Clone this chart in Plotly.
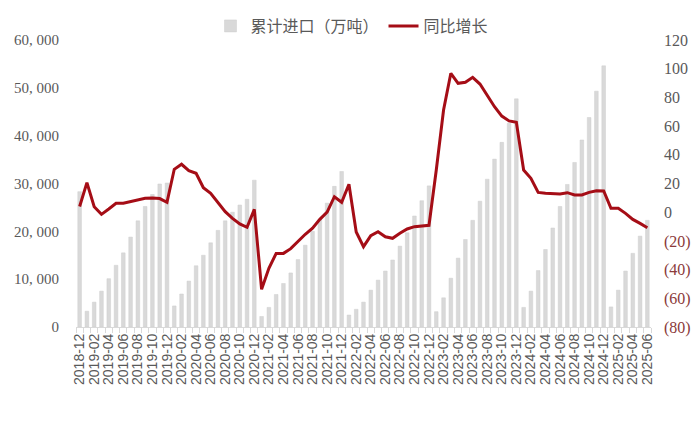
import plotly.graph_objects as go

months = ["2018-12",
          "2019-01","2019-02","2019-03","2019-04","2019-05","2019-06","2019-07","2019-08","2019-09","2019-10","2019-11","2019-12",
          "2020-01","2020-02","2020-03","2020-04","2020-05","2020-06","2020-07","2020-08","2020-09","2020-10","2020-11","2020-12",
          "2021-01","2021-02","2021-03","2021-04","2021-05","2021-06","2021-07","2021-08","2021-09","2021-10","2021-11","2021-12",
          "2022-01","2022-02","2022-03","2022-04","2022-05","2022-06","2022-07","2022-08","2022-09","2022-10","2022-11","2022-12",
          "2023-01","2023-02","2023-03","2023-04","2023-05","2023-06","2023-07","2023-08","2023-09","2023-10","2023-11","2023-12",
          "2024-01","2024-02","2024-03","2024-04","2024-05","2024-06","2024-07","2024-08","2024-09","2024-10","2024-11","2024-12",
          "2025-01","2025-02","2025-03","2025-04","2025-05","2025-06"]

imports = [28300,
           3300, 5200, 7500, 10100, 12900, 15500, 18800, 22200, 25200, 27700, 29900, 30100,
           4400, 6900, 9600, 12800, 15000, 17600, 20200, 22200, 24000, 25500, 26700, 30700,
           2200, 4100, 6800, 9100, 11300, 14100, 17100, 20000, 22500, 25900, 29400, 32500,
           2500, 3700, 5200, 7700, 9800, 11700, 14000, 16900, 19700, 23200, 26400, 29500,
           3200, 6100, 10200, 14400, 18300, 22300, 26300, 30900, 35100, 38600, 42600, 47700,
           4100, 7500, 11800, 16200, 20700, 25200, 29800, 34400, 39100, 43800, 49300, 54600,
           4200, 7700, 11700, 15400, 19000, 22300]

yoy = [4.0,
       20.6, 3.8, -1.5, 2.2, 6.2, 6.2, 7.3, 8.5, 9.7, 9.9, 9.5, 6.9,
       29.9, 33.4, 28.9, 27.1, 17.1, 13.2, 6.6, 0.4, -4.3, -8.2, -10.5, 2.0,
       -53.7, -39.1, -28.7, -28.7, -25.4, -20.1, -15.4, -11.2, -5.0, 0.1, 10.8, 6.9,
       19.5, -13.8, -24.0, -16.4, -13.6, -17.1, -18.2, -14.7, -11.7, -10.1, -9.6, -9.1,
       29.4, 71.2, 96.8, 89.8, 90.5, 94.0, 89.3, 81.7, 73.5, 67.0, 63.6, 62.6,
       29.4, 23.6, 13.8, 13.2, 12.7, 12.7, 13.6, 12.0, 12.0, 13.8, 15.0, 14.8,
       2.7, 2.7, -0.8, -5.0, -7.8, -10.8]

left_vals = [0, 10000, 20000, 30000, 40000, 50000, 60000]
left_text = ["0", "10, 000", "20, 000", "30, 000", "40, 000", "50, 000", "60, 000"]
right_vals = [-80, -60, -40, -20, 0, 20, 40, 60, 80, 100, 120]

def right_label(v):
    if v < 0:
        return '<span style="color:#8b3a3a">(%d)</span>' % (-v)
    return str(v)

right_text = [right_label(v) for v in right_vals]

x = list(range(len(months)))

fig = go.Figure()
fig.add_trace(go.Bar(
    x=x, y=imports, name="累计进口（万吨）",
    marker=dict(color="#d9d9d9", line=dict(color="#cfcfcf", width=0.5)),
    width=0.5, yaxis="y"))
fig.add_trace(go.Scatter(
    x=x, y=yoy, name="同比增长", mode="lines",
    line=dict(color="#a50d16", width=3), yaxis="y2"))

fig.update_layout(
    width=700, height=421,
    margin=dict(l=68, r=57, t=32, b=102, autoexpand=False),
    paper_bgcolor="white", plot_bgcolor="white",
    showlegend=True,
    legend=dict(orientation="h", x=0.48, y=1.108, xanchor="center", yanchor="top",
                font=dict(family="Noto Sans CJK SC", size=16, color="#595959"),
                itemwidth=30, tracegroupgap=0, bgcolor="rgba(0,0,0,0)",
                borderwidth=0),
    xaxis=dict(
        range=[-0.5, len(months) - 0.5],
        tickmode="array", tickvals=x[::2], ticktext=months[::2],
        tickangle=-90, ticks="", automargin=False,
        tickfont=dict(family="Liberation Sans", size=14, color="#595959"),
        showline=True, linecolor="#d9d9d9", linewidth=1,
        showgrid=False, zeroline=False,
        minor=dict(ticks="outside", dtick=1, tick0=0.5, ticklen=5, tickcolor="#d9d9d9", showgrid=False),
    ),
    yaxis=dict(
        range=[0, 60000], tickmode="array", tickvals=left_vals, ticktext=left_text,
        tickfont=dict(family="Liberation Serif", size=15, color="#595959"),
        showgrid=False, zeroline=False, showline=False, ticks="", automargin=False,
        ticklabelstandoff=16,
    ),
    yaxis2=dict(
        range=[-80, 120], overlaying="y", side="right",
        tickmode="array", tickvals=right_vals, ticktext=right_text,
        tickfont=dict(family="Liberation Serif", size=16, color="#595959"),
        showgrid=False, zeroline=False, showline=False, ticks="", automargin=False,
        ticklabelstandoff=12,
    ),
)

fig.write_html("out.html")
